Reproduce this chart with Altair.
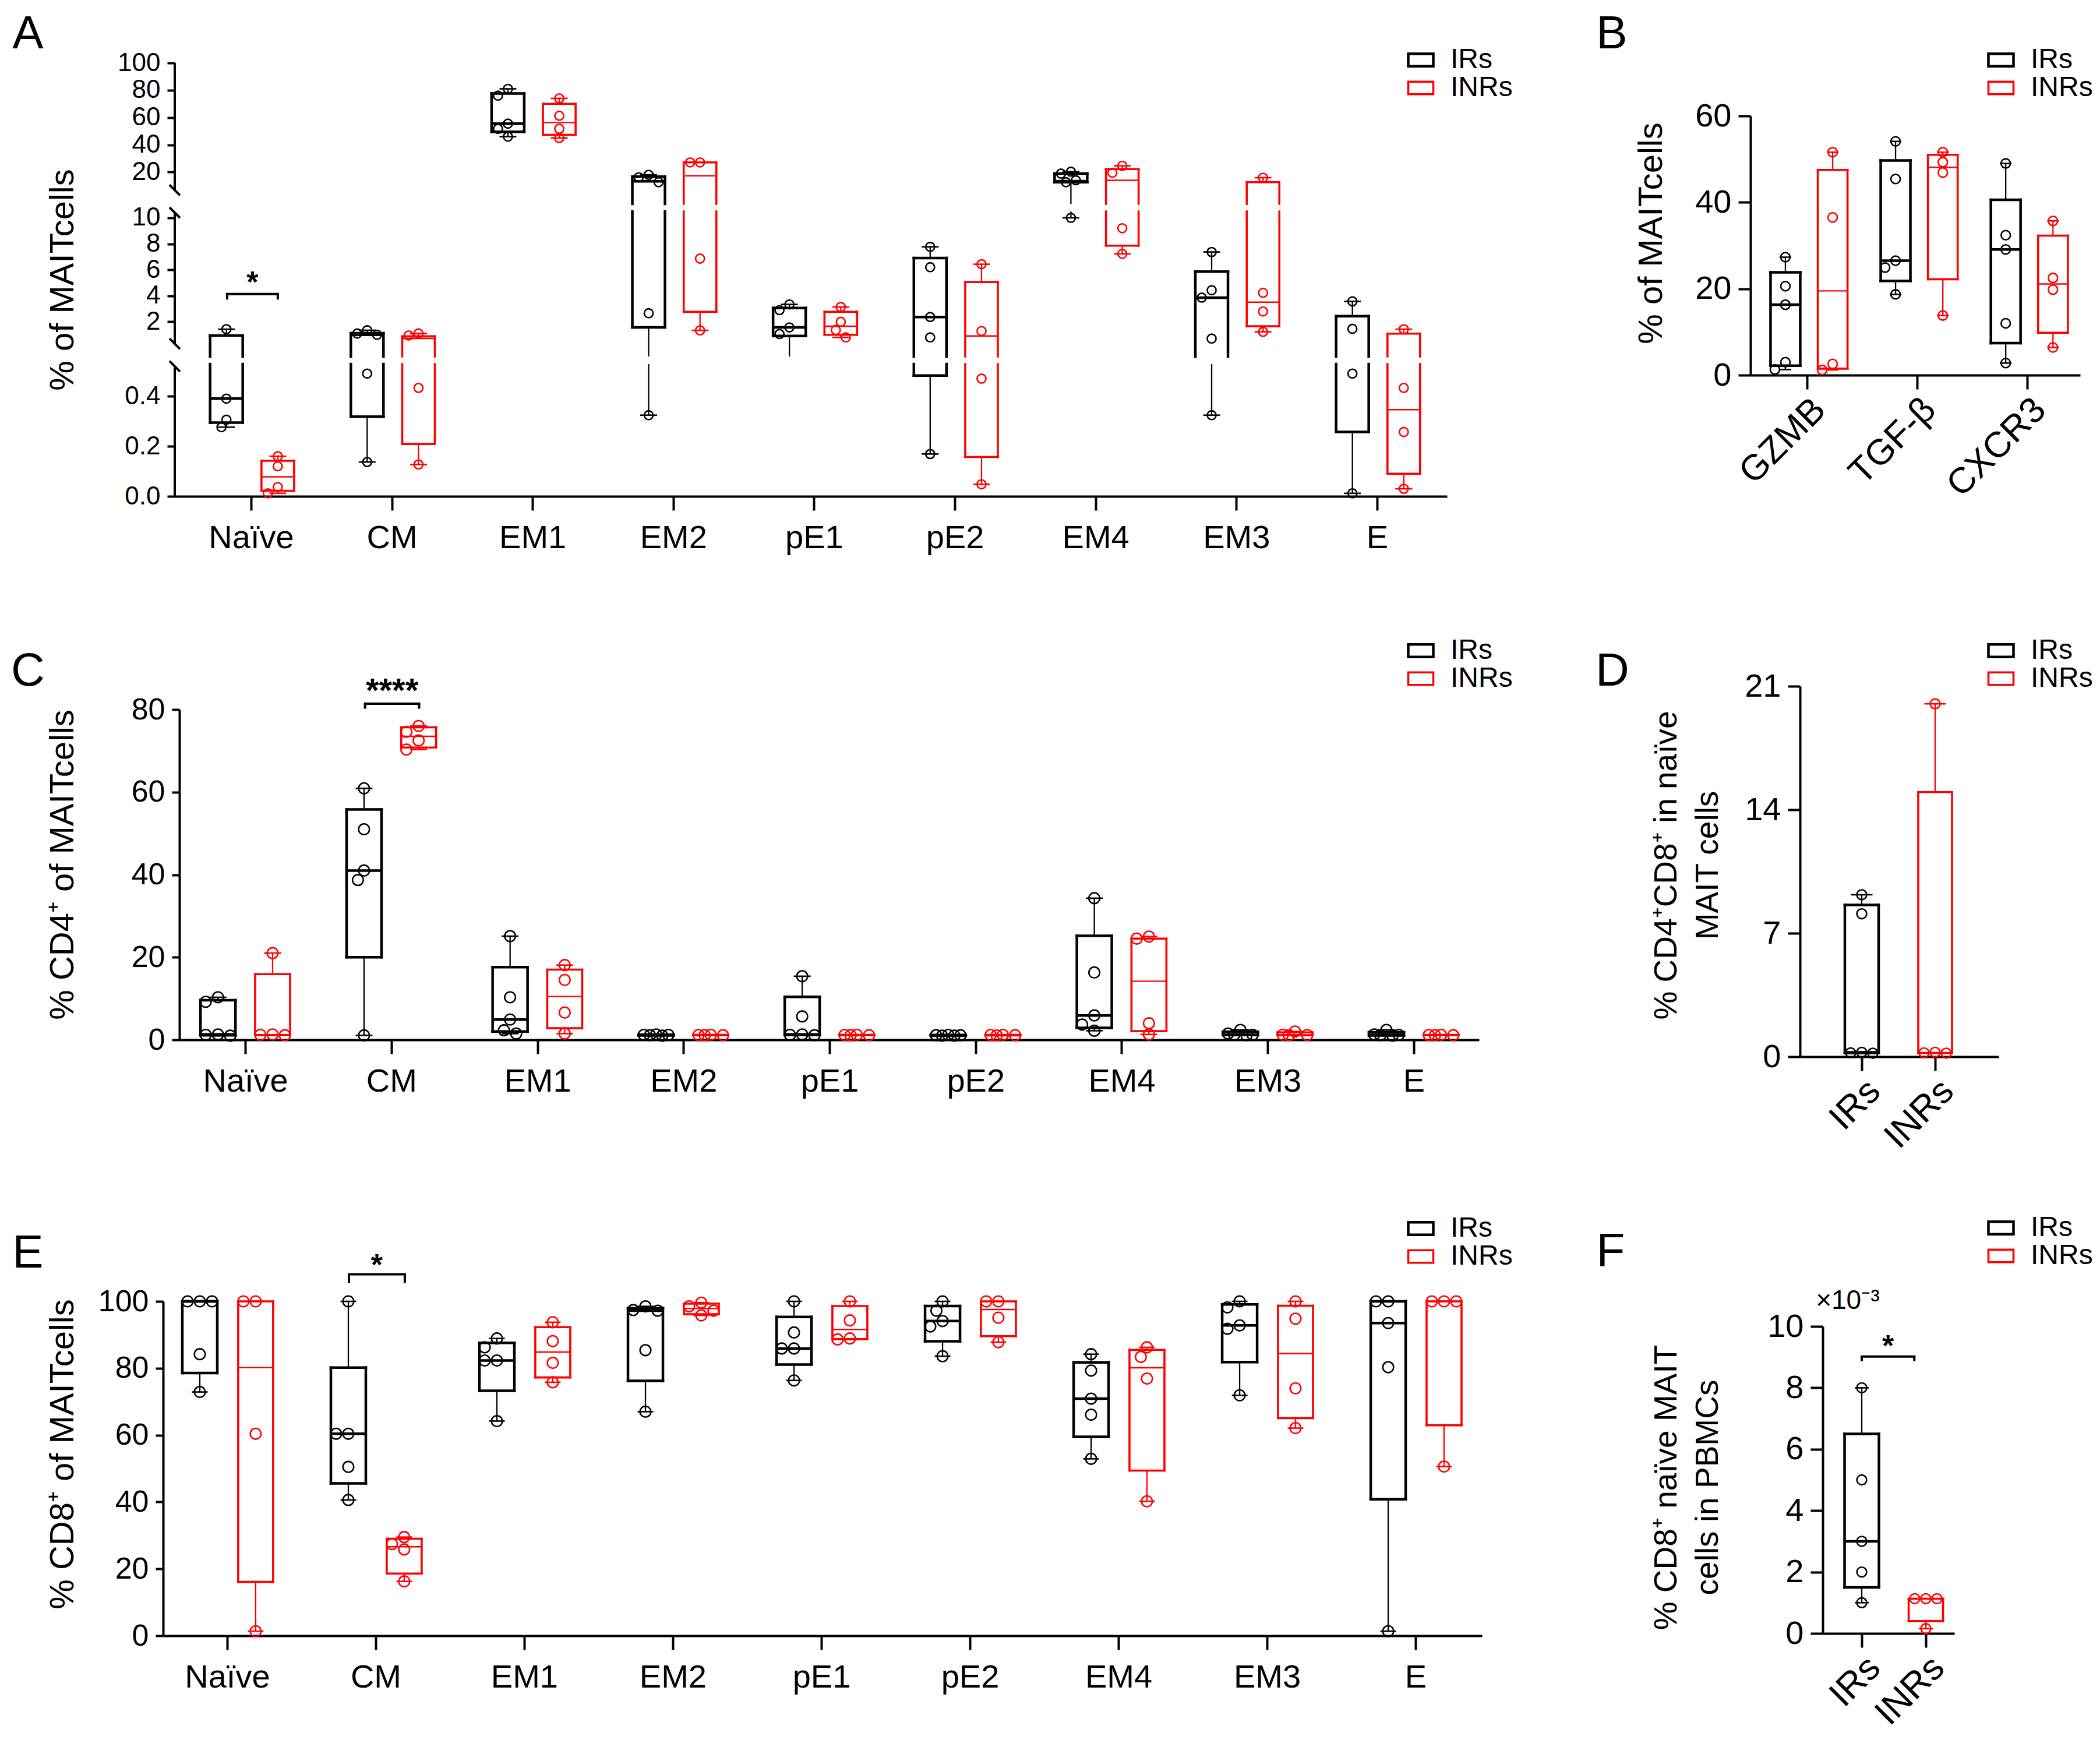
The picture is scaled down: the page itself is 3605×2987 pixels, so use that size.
import math
import altair as alt
import pandas as pd

W, H = 3589, 2971
FONT = "Liberation Sans"
GROUPS = ["IRs", "INRs"]
COLORS = ["#000000", "#ff0000"]
BIG = 1e9

SUBSETS = ["Naïve", "CM", "EM1", "EM2", "pE1", "pE2", "EM4", "EM3", "E"]
MARKERS = ["GZMB", "TGF-β", "CXCR3"]
COHORTS = ["IRs", "INRs"]

# ---------------- Panel A : % of MAIT cells (broken axis) ----------------
A_IR_PTS = [
    [1.43, 0.39, 0.306, 0.276],
    [1.35, 1.1, 1.0, 0.49, 0.137],
    [81, 76, 55.5, 51.7, 46],
    [18, 16.2, 12.6, 2.66, 0.324],
    [3.34, 2.9, 1.57, 1.06],
    [7.77, 6.2, 2.37, 0.8, 0.169],
    [20.3, 18.9, 14.0, 12.6, 10.0],
    [7.37, 4.43, 3.86, 0.71, 0.324],
    [3.57, 1.46, 0.49, 0.012],
]
A_INR_PTS = [
    [0.16, 0.12, 0.037, 0.012],
    [1.1, 0.95, 0.433, 0.127],
    [74, 61.3, 51.7, 45],
    [27.1, 27.1, 6.86, 1.34],
    [3.14, 2.0, 1.37, 0.8],
    [6.43, 1.29, 0.47, 0.048],
    [24.6, 19.5, 9.2, 7.23],
    [15.9, 4.23, 2.8, 1.23],
    [1.43, 0.433, 0.257, 0.03],
]
# [min, Q1, median, Q3, max]
A_IR_BOX = [
    [0.276, 0.294, 0.39, 0.94, 1.43],
    [0.137, 0.318, 1.0, 1.12, 1.35],
    [46, 49.5, 55.5, 77.6, 81],
    [0.324, 1.57, 13.2, 16.7, 18],
    [0.52, 0.91, 1.57, 3.06, 3.34],
    [0.169, 0.482, 2.37, 6.91, 7.77],
    [10.0, 12.6, 13.4, 18.9, 20.3],
    [0.324, 0.52, 3.86, 5.86, 7.37],
    [0.012, 0.257, 0.52, 2.43, 3.57],
]
A_INR_BOX = [
    [0.012, 0.022, 0.078, 0.142, 0.16],
    [0.127, 0.209, 0.72, 0.88, 1.1],
    [45, 47.3, 56.3, 70, 74],
    [1.34, 2.77, 17.3, 27.1, 27.1],
    [0.8, 1.0, 1.66, 2.77, 3.14],
    [0.048, 0.157, 0.91, 5.06, 6.43],
    [7.23, 7.86, 14.0, 22.2, 24.6],
    [1.23, 1.66, 3.51, 12.6, 15.9],
    [0.03, 0.09, 0.346, 1.09, 1.43],
]
A_SIG_X = [-0.17, 0.19]
A_SIG_Y = [4.14, 3.71, 5.44]

# ---------------- Panel B : markers ----------------
B_IR_PTS = [[27.3, 20.6, 16.3, 3.0, 1.3], [54.1, 45.4, 26.5, 24.9, 18.7], [49.0, 32.4, 29.1, 12.0, 2.8]]
B_INR_PTS = [[51.6, 36.5, 2.6, 1.2], [51.6, 49.3, 46.9, 13.8], [35.7, 22.5, 19.8, 6.4]]
B_IR_BOX = [[1.3, 2.2, 16.3, 23.8, 27.3], [18.7, 21.8, 26.5, 49.7, 54.1], [2.8, 7.4, 29.1, 40.6, 49.0]]
B_INR_BOX = [[1.2, 1.5, 19.5, 47.5, 51.6], [13.8, 22.2, 48.1, 51.0, 51.6], [6.4, 9.8, 21.1, 32.3, 35.7]]

# ---------------- Panel C : % CD4+ of MAIT cells ----------------
C_IR_PTS = [
    [10.3, 9.2, 1.3, 1.2, 1.0], [60.9, 51.0, 41.0, 38.7, 1.07], [25.1, 10.3, 4.9, 2.3, 1.5],
    [1.3, 1.2, 1.2, 1.1, 1.0], [15.4, 5.65, 1.3, 1.2, 1.1], [1.2, 1.1, 1.1, 1.0, 1.0],
    [34.3, 16.3, 5.9, 3.7, 2.2], [2.4, 1.5, 1.2, 1.2, 1.1], [2.4, 1.3, 1.2, 1.1, 1.0],
]
C_INR_PTS = [
    [21.0, 1.3, 1.2, 1.1], [76.0, 74.6, 72.5, 70.3], [18.1, 14.5, 6.6, 1.5],
    [1.2, 1.15, 1.1, 1.1], [1.2, 1.15, 1.1, 1.1], [1.2, 1.15, 1.1, 1.05],
    [25.0, 24.5, 4.0, 1.3], [2.0, 1.2, 1.15, 1.1], [1.2, 1.15, 1.1, 1.1],
]
C_IR_BOX = [
    [1.0, 1.1, 1.3, 9.6, 10.3], [1.07, 20.0, 41.0, 55.8, 60.9], [1.5, 2.0, 4.9, 17.6, 25.1],
    [1.0, 1.05, 1.2, 1.25, 1.3], [1.1, 1.15, 1.3, 10.4, 15.4], [1.0, 1.0, 1.1, 1.15, 1.2],
    [2.2, 2.9, 5.9, 25.2, 34.3], [1.1, 1.15, 1.2, 1.95, 2.4], [1.0, 1.05, 1.2, 1.85, 2.4],
]
C_INR_BOX = [
    [1.1, 1.12, 1.25, 15.9, 21.0], [70.3, 70.8, 73.5, 75.7, 76.0], [1.5, 2.8, 10.5, 17.0, 18.1],
    [1.1, 1.1, 1.12, 1.19, 1.2], [1.1, 1.1, 1.12, 1.19, 1.2], [1.05, 1.06, 1.12, 1.19, 1.2],
    [1.3, 2.1, 14.2, 24.5, 25.0], [1.1, 1.11, 1.18, 1.8, 2.0], [1.1, 1.1, 1.12, 1.19, 1.2],
]
C_SIG_X = [0.82, 1.19]
C_SIG_Y = [81.4, 80.2, 85.6]

# ---------------- Panel D : % CD4+CD8+ in naive MAIT ----------------
D_IR_PTS = [[9.18, 8.1, 0.25, 0.22, 0.2]]
D_INR_PTS = [[20.0, 0.25, 0.22, 0.2]]
D_IR_BOX = [[0.2, 0.21, 0.25, 8.6, 9.18]]
D_INR_BOX = [[0.2, 0.205, 0.235, 15.0, 20.0]]

# ---------------- Panel E : % CD8+ of MAIT cells ----------------
E_IR_PTS = [
    [100, 100, 100, 84.2, 72.9], [100, 60.4, 60.4, 50.5, 40.6], [88.9, 86.25, 82.3, 82.3, 64.2],
    [98.5, 97.4, 97.2, 85.4, 67.0], [100, 90.7, 85.9, 85.9, 76.35], [100, 97.2, 94.1, 92.5, 83.6],
    [84.2, 79.3, 70.9, 66.1, 52.9], [100, 98.2, 92.8, 91.8, 71.9], [100, 100, 93.5, 80.3, 1.35],
]
E_INR_PTS = [
    [100, 100, 60.4, 1.35], [29.5, 27.4, 25.8, 16.25], [93.75, 88.1, 81.6, 75.8],
    [99.6, 98.5, 97.2, 95.8], [100, 94.3, 88.9, 88.6], [100, 100, 95.1, 87.8],
    [86.25, 83.4, 76.9, 40.2], [100, 94.8, 74.0, 62.1], [100, 100, 100, 50.6],
]
E_IR_BOX = [
    [72.9, 78.55, 100, 100, 100], [40.6, 45.55, 60.4, 80.2, 100], [64.2, 73.25, 82.3, 87.6, 88.9],
    [67.0, 76.2, 97.2, 97.95, 98.5], [76.35, 81.1, 85.9, 95.35, 100], [83.6, 88.05, 94.1, 98.6, 100],
    [52.9, 59.5, 70.9, 81.75, 84.2], [71.9, 81.85, 92.8, 99.1, 100], [1.35, 40.8, 93.5, 100, 100],
]
E_INR_BOX = [
    [1.35, 16.1, 80.2, 100, 100], [16.25, 18.6, 26.6, 29.0, 29.5], [75.8, 77.25, 84.85, 92.3, 93.75],
    [95.8, 96.15, 97.85, 99.3, 99.6], [88.6, 88.7, 91.6, 98.6, 100], [87.8, 89.6, 97.55, 100, 100],
    [40.2, 49.4, 80.15, 85.5, 86.25], [62.1, 65.1, 84.4, 98.7, 100], [50.6, 62.95, 100, 100, 100],
]
E_SIG_X = [0.82, 1.196]
E_SIG_Y = [108.1, 105.5, 112.3]

# ---------------- Panel F : % CD8+ naive MAIT in PBMCs ----------------
F_IR_PTS = [[0.008, 0.005, 0.003, 0.002, 0.001]]
F_INR_PTS = [[0.00113, 0.00113, 0.00113, 0.000155]]
F_IR_BOX = [[0.001, 0.0015, 0.003, 0.0065, 0.008]]
F_INR_BOX = [[0.000155, 0.0004, 0.00113, 0.00113, 0.00113]]
F_SIG_X = [0.0, 0.82]
F_SIG_Y = [0.00902, 0.00887, 0.00953]

# ---------------- layout (plot-area pixels) ----------------
PA = dict(xr=(292, 2476), xd=(-0.542, 8.497), offs=(-0.175, 0.19), box=56, cap=29, diam=17, psize=230)
PB = dict(xr=(2997, 3563), xd=(-0.513, 2.48), offs=(-0.196, 0.233), box=51, cap=20, diam=18, psize=254)
PC = dict(xr=(300, 2531), xd=(-0.451, 8.447), offs=(-0.187, 0.187), box=60, cap=29, diam=21, psize=346)
PD = dict(xr=(3082, 3423), xd=(-0.841, 1.865), offs=(0.0, 0.0), box=58, cap=37, diam=19, psize=283)
PE = dict(xr=(272, 2536), xd=(-0.431, 8.447), offs=(-0.184, 0.192), box=60, cap=27, diam=21, psize=346)
PF = dict(xr=(3121, 3347), xd=(-0.609, 1.445), offs=(0.0, 0.0), box=59, cap=24, diam=19, psize=283)

A_SEGS = [
    dict(yr=(342, 100), yd=(-3.3, 100), lo=10.43, hi=BIG, ticks=[20, 40, 60, 80, 100], line=(6.8, 100), breaks=[6.8]),
    dict(yr=(604, 355), yd=(-0.67, 10.49), lo=0.55, hi=10.43, ticks=[2, 4, 6, 8, 10], line=(0.31, 10.4), breaks=[10.4, 0.31]),
    dict(yr=(844, 617), yd=(0, 0.528), lo=-BIG, hi=0.5, ticks=[0, 0.2, 0.4], line=(0, 0.519), breaks=[0.519], fmt=".1f"),
]
SB = [dict(yr=(636, 191), yd=(0, 60), lo=-BIG, hi=BIG)]
SC = [dict(yr=(1777, 1210), yd=(0, 80), lo=-BIG, hi=BIG)]
SD = [dict(yr=(1806, 1170), yd=(0, 21), lo=-BIG, hi=BIG)]
SE = [dict(yr=(2800, 2226), yd=(0, 100), lo=-BIG, hi=BIG)]
SF = [dict(yr=(2796, 2269), yd=(0, 0.010), lo=-BIG, hi=BIG)]

LINE_W = 4.0


def lin(v, d, r):
    return r[0] + (v - d[0]) / (d[1] - d[0]) * (r[1] - r[0])


def seg_of(v, segs):
    for s in segs:
        if s["lo"] <= v <= s["hi"]:
            return s
    return min(segs, key=lambda s: min(abs(v - s["lo"]), abs(v - s["hi"])))


def swarm(vals, segs, diam, max_off):
    cands = [0.0]
    for k in range(1, 9):
        cands += [-0.5 * k * diam, 0.5 * k * diam]
    order = sorted(range(len(vals)), key=lambda i: -vals[i])
    placed, offs = [], [0.0] * len(vals)
    for i in order:
        s = seg_of(vals[i], segs)
        y = lin(vals[i], s["yd"], s["yr"])
        chosen, best_c, best_d = None, 0.0, -1.0
        for c in cands:
            if abs(c) > max_off:
                continue
            d = min((math.hypot(c - px, y - py) for px, py in placed), default=1e9)
            if d >= 0.9 * diam:
                chosen = c
                break
            if d > best_d:
                best_d, best_c = d, c
        if chosen is None:
            chosen = best_c
        placed.append((chosen, y))
        offs[i] = chosen
    return offs


def frames(P, segs, ir_pts, inr_pts, ir_box, inr_box, pos=None):
    step = (P["xr"][1] - P["xr"][0]) / (P["xd"][1] - P["xd"][0])
    hw = P["box"] / 2 / step
    cw = P["cap"] / 2 / step
    if pos is None:
        pos = (list(range(len(ir_box))), list(range(len(inr_box))))
    brows, crows, prows = [], [], []
    for g, (pts_all, boxes) in enumerate(((ir_pts, ir_box), (inr_pts, inr_box))):
        for j, b in enumerate(boxes):
            xc = pos[g][j] + P["offs"][g]
            brows.append(dict(group=GROUPS[g], x=xc, xl=xc - hw, xr=xc + hw,
                              mn=b[0], q1=b[1], med=b[2], q3=b[3], mx=b[4]))
            for v in (b[0], b[4]):
                crows.append(dict(group=GROUPS[g], xl=xc - cw, xr=xc + cw, v=v))
            offs = swarm(pts_all[j], segs, P["diam"], P["box"] / 2)
            for v, o in zip(pts_all[j], offs):
                prows.append(dict(group=GROUPS[g], x=xc + o / step, v=v))
    return pd.DataFrame(brows), pd.DataFrame(crows), pd.DataFrame(prows)


def xscale(P):
    return alt.Scale(domain=list(P["xd"]), range=list(P["xr"]), nice=False, zero=False)


def yscale(S, clamp=True):
    return alt.Scale(domain=list(S["yd"]), range=list(S["yr"]), nice=False, zero=False, clamp=clamp)


def stroke_enc(legend=None):
    return alt.Stroke("group:N", scale=alt.Scale(domain=GROUPS, range=COLORS), legend=legend)


def width_enc(a, b):
    return alt.StrokeWidth("group:N", scale=alt.Scale(domain=GROUPS, range=[a, b]), legend=None)


def seg_layers(P, S, bdf, cdf, pdf, xaxis=None, yaxis=None, legend=None):
    lo, hi = S["lo"], S["hi"]
    xs, ys = xscale(P), yscale(S)

    def X(f, axis=None):
        return alt.X(f"{f}:Q", scale=xs, axis=axis)

    def Y(f, axis=None):
        return alt.Y(f"{f}:Q", scale=ys, axis=axis)

    def cl(f):
        return f"datum.{f} < {lo} ? {-BIG} : (datum.{f} > {hi} ? {BIG} : datum.{f})"

    def inr(f):
        return f"datum.{f} >= {lo} && datum.{f} <= {hi}"

    base = alt.Chart(bdf)
    whisk = (base.transform_filter(f"datum.mx >= {lo} && datum.mn <= {hi}")
             .transform_calculate(a=cl("mn"), b=cl("mx"))
             .mark_rule(strokeWidth=2.3)
             .encode(x=X("x"), y=Y("a"), y2="b:Q", stroke=stroke_enc()))
    boxf = (base.transform_filter(f"datum.q3 >= {lo} && datum.q1 <= {hi}")
            .transform_calculate(a=cl("q1"), b=cl("q3")))
    fill = boxf.mark_bar(fill="white", strokeWidth=0).encode(
        x=X("xl", xaxis), x2="xr:Q", y=Y("a", yaxis), y2="b:Q")
    sides = (boxf.transform_fold(["xl", "xr"], as_=["side", "sx"])
             .mark_rule(strokeCap="square")
             .encode(x=X("sx"), y=Y("a"), y2="b:Q", stroke=stroke_enc(legend),
                     strokeWidth=width_enc(4.5, 3.6)))
    edges = (base.transform_fold(["q1", "q3"], as_=["edge", "ev"])
             .transform_filter(inr("ev"))
             .mark_rule(strokeCap="square")
             .encode(x=X("xl"), x2="xr:Q", y=Y("ev"), stroke=stroke_enc(),
                     strokeWidth=width_enc(4.5, 3.6)))
    med = (base.transform_filter(inr("med"))
           .mark_rule()
           .encode(x=X("xl"), x2="xr:Q", y=Y("med"), stroke=stroke_enc(),
                   strokeWidth=width_enc(4.5, 2.4)))
    caps = (alt.Chart(cdf).transform_filter(inr("v"))
            .mark_rule(strokeWidth=2.6)
            .encode(x=X("xl"), x2="xr:Q", y=Y("v"), stroke=stroke_enc()))
    pts = (alt.Chart(pdf).transform_filter(inr("v"))
           .mark_point(shape="circle", filled=False, strokeWidth=2.6, size=P["psize"], opacity=1)
           .encode(x=X("x"), y=Y("v"), stroke=stroke_enc()))
    return [whisk, fill, sides, edges, med, caps, pts]


def y_axis(P, ticks, tick_size, lab_size, title=None, tx=0, ty=0, tsize=58,
           fmt=None, expr=None, domain=True, line_h=None):
    kw = dict(orient="left", offset=-P["xr"][0], values=ticks, tickSize=tick_size, tickWidth=LINE_W,
              tickColor="black", domain=domain, domainWidth=LINE_W, domainColor="black",
              labelFontSize=lab_size, labelColor="black", labelPadding=12, labelFont=FONT,
              grid=False, labelFlush=False, labelOverlap=False, labelLimit=0)
    if fmt:
        kw["format"] = fmt
    if expr:
        kw["labelExpr"] = expr
    if title is None:
        kw["title"] = None
    else:
        kw.update(title=title, titleFont=FONT, titleFontSize=tsize, titleFontWeight="normal",
                  titleColor="black", titleX=tx, titleY=ty, titleAngle=270,
                  titleAlign="center", titleBaseline="middle", titleLimit=0)
        if line_h:
            kw["titleLineHeight"] = line_h
    return alt.Axis(**kw)


def x_axis(y_px, labels, lab_size, rotate=False):
    expr = "[" + ",".join(f"'{s}'" for s in labels) + "][round(datum.value)]"
    kw = dict(orient="bottom", offset=y_px - H, values=list(range(len(labels))), labelExpr=expr,
              tickSize=24, tickWidth=LINE_W, tickColor="black", domainWidth=LINE_W, domainColor="black",
              labelFontSize=lab_size, labelColor="black", labelFont=FONT, title=None, grid=False,
              labelFlush=False, labelOverlap=False, labelLimit=0)
    if rotate:
        kw.update(labelAngle=315, labelAlign="right", labelBaseline="top", labelPadding=4)
    else:
        kw.update(labelAngle=0, labelPadding=20)
    return alt.Axis(**kw)


def legend(x, y):
    return alt.Legend(orient="none", legendX=x, legendY=y, title=None, direction="vertical",
                      symbolType="M-1,-0.5H1V0.5H-1Z", symbolSize=1849, symbolStrokeWidth=3.2,
                      symbolFillColor="white", labelFontSize=48, labelFont=FONT, labelColor="black",
                      labelOffset=27, rowPadding=-5, padding=0, labelLimit=0)


def bracket(P, S, xv, yv, label, size=52):
    xs, ys = xscale(P), yscale(S, clamp=False)
    top = alt.Chart(pd.DataFrame({"x1": [xv[0]], "x2": [xv[1]], "y": [yv[0]]})).mark_rule(
        strokeWidth=LINE_W, color="black", strokeCap="square").encode(
        x=alt.X("x1:Q", scale=xs, axis=None), x2="x2:Q", y=alt.Y("y:Q", scale=ys, axis=None))
    legs = alt.Chart(pd.DataFrame({"x": xv, "y1": [yv[0]] * 2, "y2": [yv[1]] * 2})).mark_rule(
        strokeWidth=LINE_W, color="black").encode(
        x=alt.X("x:Q", scale=xs, axis=None), y=alt.Y("y1:Q", scale=ys, axis=None), y2="y2:Q")
    star = alt.Chart(pd.DataFrame({"x": [sum(xv) / 2], "y": [yv[2]], "t": [label]})).mark_text(
        font=FONT, fontSize=size, fontWeight="bold", color="black", baseline="middle", dy=10).encode(
        x=alt.X("x:Q", scale=xs, axis=None), y=alt.Y("y:Q", scale=ys, axis=None), text="t:N")
    return [top, legs, star]


def axis_break(P, S):
    xs, ys = xscale(P), yscale(S)
    line = alt.Chart(pd.DataFrame({"x": [P["xd"][0]], "y1": [S["line"][0]], "y2": [S["line"][1]]})).mark_rule(
        strokeWidth=LINE_W, color="black").encode(
        x=alt.X("x:Q", scale=xs, axis=None), y=alt.Y("y1:Q", scale=ys, axis=None), y2="y2:Q")
    brk = alt.Chart(pd.DataFrame({"x": [P["xd"][0]] * len(S["breaks"]), "y": S["breaks"]})).mark_point(
        shape="M-1,-1L1,1", filled=False, strokeWidth=LINE_W, size=324, color="black", opacity=1).encode(
        x=alt.X("x:Q", scale=xs, axis=None), y=alt.Y("y:Q", scale=ys, axis=None))
    return [line, brk]


def letter(t, x, y):
    return alt.Chart(pd.DataFrame({"t": [t]})).mark_text(
        font=FONT, fontSize=80, color="black", align="center", baseline="alphabetic").encode(
        text="t:N", x=alt.value(x), y=alt.value(y))


layers = []

# Panel A
bA, cA, pA = frames(PA, A_SEGS, A_IR_PTS, A_INR_PTS, A_IR_BOX, A_INR_BOX)
for k, S in enumerate(A_SEGS):
    yax = y_axis(PA, S["ticks"], 13, 44, fmt=S.get("fmt"), domain=False,
                 title="% of MAITcells" if k == 1 else None, tx=-192, ty=472)
    xax = x_axis(844, SUBSETS, 56) if k == 2 else None
    leg = legend(2407, 71) if k == 0 else None
    layers += seg_layers(PA, S, bA, cA, pA, xax, yax, leg)
    layers += axis_break(PA, S)
layers += bracket(PA, A_SEGS[1], A_SIG_X, A_SIG_Y, "*")

# Panel B
bB, cB, pB = frames(PB, SB, B_IR_PTS, B_INR_PTS, B_IR_BOX, B_INR_BOX)
layers += seg_layers(PB, SB[0], bB, cB, pB, x_axis(636, MARKERS, 62, rotate=True),
                     y_axis(PB, [0, 20, 40, 60], 21, 56, title="% of MAITcells", tx=-170, ty=392),
                     legend(3403, 71))

# Panel C
bC, cC, pC = frames(PC, SC, C_IR_PTS, C_INR_PTS, C_IR_BOX, C_INR_BOX)
layers += seg_layers(PC, SC[0], bC, cC, pC, x_axis(1777, SUBSETS, 56),
                     y_axis(PC, [0, 20, 40, 60, 80], 13, 52, title="% CD4⁺ of MAITcells", tx=-200, ty=1476),
                     legend(2407, 1085))
layers += bracket(PC, SC[0], C_SIG_X, C_SIG_Y, "****", size=58)

# Panel D
bD, cD, pD = frames(PD, SD, D_IR_PTS, D_INR_PTS, D_IR_BOX, D_INR_BOX, pos=([0], [1]))
layers += seg_layers(PD, SD[0], bD, cD, pD, x_axis(1806, COHORTS, 62, rotate=True),
                     y_axis(PD, [0, 7, 14, 21], 21, 56, title=["% CD4⁺CD8⁺ in naïve", "MAIT cells"],
                            tx=-230, ty=1477, tsize=55, line_h=71),
                     legend(3403, 1085))

# Panel E
bE, cE, pE = frames(PE, SE, E_IR_PTS, E_INR_PTS, E_IR_BOX, E_INR_BOX)
layers += seg_layers(PE, SE[0], bE, cE, pE, x_axis(2800, SUBSETS, 56),
                     y_axis(PE, [0, 20, 40, 60, 80, 100], 13, 52, title="% CD8⁺ of MAITcells", tx=-172, ty=2488),
                     legend(2407, 2077))
layers += bracket(PE, SE[0], E_SIG_X, E_SIG_Y, "*")

# Panel F
bF, cF, pF = frames(PF, SF, F_IR_PTS, F_INR_PTS, F_IR_BOX, F_INR_BOX, pos=([0], [1]))
layers += seg_layers(PF, SF[0], bF, cF, pF, x_axis(2796, COHORTS, 62, rotate=True),
                     y_axis(PF, [0, 0.002, 0.004, 0.006, 0.008, 0.010], 21, 56,
                            expr="format(datum.value * 1000, 'd')",
                            title=["% CD8⁺ naïve MAIT", "cells in PBMCs"],
                            tx=-269, ty=2545, tsize=55, line_h=71),
                     legend(3403, 2076))
layers += bracket(PF, SF[0], F_SIG_X, F_SIG_Y, "*")
layers.append(
    alt.Chart(pd.DataFrame({"x": [-0.22], "y": [0.01083], "t": ["×10⁻³"]})).mark_text(
        font=FONT, fontSize=46, color="black", align="center", baseline="middle").encode(
        x=alt.X("x:Q", scale=xscale(PF), axis=None),
        y=alt.Y("y:Q", scale=yscale(SF[0], clamp=False), axis=None), text="t:N"))

# panel letters
for t, x, y in [("A", 40, 75), ("B", 2759, 75), ("C", 40, 1169),
                ("D", 2760, 1169), ("E", 40, 2168), ("F", 2757, 2165)]:
    layers.append(letter(t, x, y))

chart = (
    alt.layer(*layers)
    .resolve_scale(x="independent", y="independent", stroke="independent", strokeWidth="independent")
    .resolve_legend(stroke="independent")
    .properties(width=W, height=H, autosize=alt.AutoSizeParams(type="none"), padding=0)
    .configure_view(stroke=None)
)

chart.save("out.html", embed_options={"renderer": "svg", "actions": False})
